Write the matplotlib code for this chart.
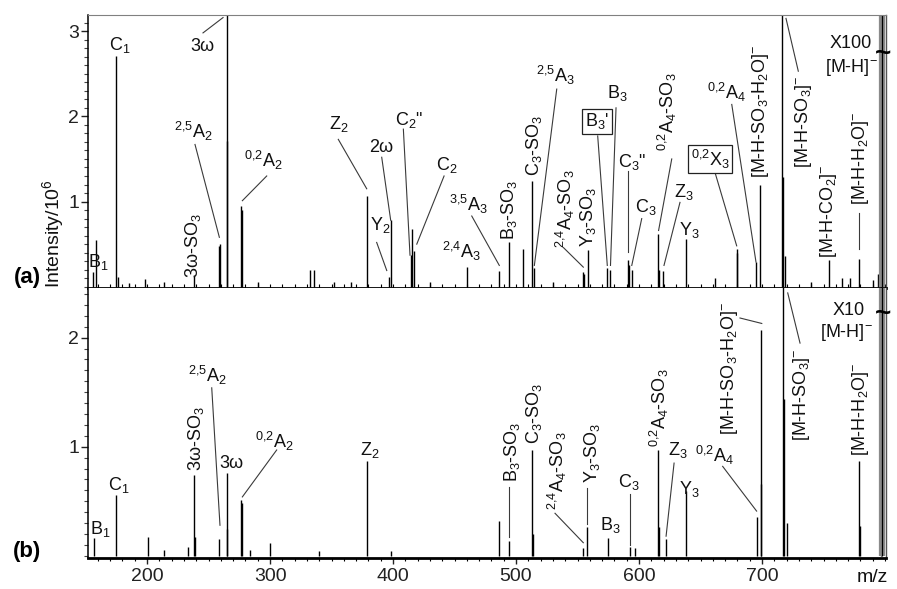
import matplotlib
matplotlib.use("Agg")
import matplotlib.pyplot as plt
from matplotlib.ticker import MultipleLocator, FixedLocator

plt.rcParams['font.family'] = ['Liberation Sans', 'DejaVu Sans']
plt.rcParams['mathtext.fontset'] = 'custom'
plt.rcParams['mathtext.rm'] = 'Liberation Sans'
plt.rcParams['mathtext.it'] = 'Liberation Sans:italic'
plt.rcParams['mathtext.bf'] = 'Liberation Sans:bold'

# ---------------- data (m/z, intensity /10^6) ----------------
# panel (a)
mz_a = [156.3, 158.3, 174.8, 176.0, 185.0, 198.4, 214.0, 238.2, 258.3, 259.0,
        264.8, 265.3, 276.8, 277.4, 290.0, 332.5, 336.0, 352.0, 366.0, 378.6,
        396.7, 398.1, 414.4, 415.7, 416.8, 430.0, 460.0, 486.4, 494.6, 505.4,
        513.3, 515.0, 530.0, 554.2, 555.0, 558.3, 574.2, 576.5, 590.8, 591.8,
        594.4, 615.4, 616.5, 619.8, 638.2, 661.8, 679.4, 680.0, 695.1, 698.4,
        716.5, 717.3, 719.0, 740.0, 754.6, 764.8, 771.5, 778.9, 790.0, 794.0,
        796.5, 797.0]
int_a = [0.17, 0.55, 2.71, 0.12, 0.04, 0.09, 0.05, 0.13, 0.48, 0.50,
         3.60, 1.71, 0.95, 0.90, 0.05, 0.20, 0.20, 0.05, 0.06, 1.07,
         0.11, 0.78, 0.37, 0.68, 0.42, 0.05, 0.23, 0.18, 0.53, 0.44,
         1.24, 0.22, 0.05, 0.17, 0.15, 0.43, 0.22, 0.20, 0.31, 0.25,
         0.20, 0.62, 0.20, 0.19, 0.56, 0.10, 0.44, 0.40, 0.29, 1.20,
         4.00, 1.29, 0.36, 0.06, 0.31, 0.10, 0.10, 0.33, 0.08, 0.15,
         1.59, 1.38]
mz_a_sat = [797.6]          # saturated [M-H]- (drawn grey, off scale)
int_a_sat = [5.0]

# panel (b)
mz_b = [156.9, 174.8, 200.5, 214.0, 233.0, 238.2, 238.8, 258.8, 264.8, 265.3,
        276.6, 277.3, 284.0, 300.0, 340.0, 378.6, 398.0, 486.2, 494.6, 513.3,
        514.0, 554.7, 558.0, 574.5, 592.4, 597.0, 615.4, 616.0, 622.0, 638.2,
        695.6, 698.9, 699.5, 717.3, 717.8, 720.0, 779.2, 779.8, 796.5]
int_b = [0.16, 0.56, 0.17, 0.05, 0.08, 0.74, 0.17, 0.15, 0.76, 0.25,
         0.51, 0.48, 0.05, 0.12, 0.04, 0.87, 0.04, 0.32, 0.14, 0.97,
         0.20, 0.07, 0.26, 0.16, 0.08, 0.07, 0.97, 0.26, 0.15, 0.59,
         0.36, 2.07, 0.66, 3.00, 1.44, 0.30, 0.87, 0.27, 0.69]
mz_b_sat = [797.6]
int_b_sat = [4.0]

x_ticks = [200, 300, 400, 500, 600, 700]
y_ticks_a = [1, 2, 3]
y_ticks_b = [1, 2]

# ---------------- figure ----------------
W, H = 897, 589
fig = plt.figure(figsize=(W / 100, H / 100), dpi=100)
L, R = 88, 886
ax1 = fig.add_axes([L / W, 1 - 288 / H, (R - L) / W, (288 - 15) / H])
ax2 = fig.add_axes([L / W, 1 - 558 / H, (R - L) / W, (558 - 288) / H])

XL = (152, 800.8)
FS = 13
TFS = 14
LC = '#3a3a3a'

for ax in (ax1, ax2):
    ax.set_xlim(*XL)
    ax.xaxis.set_major_locator(FixedLocator(x_ticks))
    ax.xaxis.set_minor_locator(MultipleLocator(10))
    ax.yaxis.set_minor_locator(MultipleLocator(0.1))
    ax.tick_params(axis='y', which='major', direction='out', length=5, width=1,
                   labelsize=TFS, pad=1.5, colors='#222222')
    ax.tick_params(axis='y', which='minor', direction='out', length=3, width=0.8,
                   colors='#444444')
    ax.spines['left'].set_linewidth(1.1)
    ax.spines['right'].set_color('#555555')
    ax.spines['right'].set_linewidth(1.0)

ax1.set_ylim(-0.015, 3.19)
ax2.set_ylim(-0.02, 2.455)
ax1.yaxis.set_major_locator(FixedLocator(y_ticks_a))
ax2.yaxis.set_major_locator(FixedLocator(y_ticks_b))

ax1.spines['top'].set_color('#808080')
ax1.spines['bottom'].set_linewidth(2.0)
ax2.spines['top'].set_visible(False)
ax2.spines['bottom'].set_linewidth(2.0)
ax1.tick_params(axis='x', which='both', direction='in', length=3, width=0.8,
                labelbottom=False)
ax2.tick_params(axis='x', which='major', direction='out', length=4, width=1,
                labelsize=TFS, pad=3, colors='#222222')
ax2.tick_params(axis='x', which='minor', direction='out', length=2.5, width=0.8)

# peaks
ax1.vlines(mz_a, 0, int_a, color='black', lw=1.0)
ax1.vlines(mz_a_sat, 0, int_a_sat, color='#8a8a8a', lw=4.5)
ax1.vlines(mz_a_sat, 0, int_a_sat, color='black', lw=0.9)
ax2.vlines(mz_b, 0, int_b, color='black', lw=1.0)
ax2.vlines(mz_b_sat, 0, int_b_sat, color='#8a8a8a', lw=4.5)
ax2.vlines(mz_b_sat, 0, int_b_sat, color='black', lw=0.9)

# ---------------- annotations (layout only) ----------------
box = dict(boxstyle='square,pad=0.15', fc='white', ec='#222222', lw=0.9)
ann_a = [
    (r'B$_1$', 160.2, 0.29, 0, None, False),
    (r'C$_1$', 178.0, 2.84, 0, None, False),
    ('3ω', 244.7, 2.82, 0, (245.5, 2.98, 261.8, 3.16), False),
    (r'$^{2{,}5}$A$_2$', 237.4, 1.82, 0, (239.0, 1.67, 258.8, 0.58), False),
    (r'3ω-SO$_3$', 237.6, 0.48, 90, None, False),
    (r'$^{0{,}2}$A$_2$', 294.6, 1.48, 0, (297.3, 1.30, 277.5, 1.01), False),
    (r'Z$_2$', 355.5, 1.91, 0, (355.5, 1.73, 378.6, 1.15), False),
    (r'Y$_2$', 389.4, 0.73, 0, (386.7, 0.52, 394.9, 0.19), False),
    ('2ω', 390.2, 1.63, 0, (390.8, 1.52, 398.1, 0.78), False),
    (r'C$_2$"', 413.0, 1.96, 0, (408.4, 1.85, 413.8, 0.37), False),
    (r'C$_2$', 443.9, 1.43, 0, (441.5, 1.30, 419.3, 0.50), False),
    (r'$^{3{,}5}$A$_3$', 461.0, 0.97, 0, (464.0, 0.83, 486.4, 0.25), False),
    (r'$^{2{,}4}$A$_3$', 455.3, 0.41, 0, None, False),
    (r'B$_3$-SO$_3$', 494.3, 0.90, 90, None, False),
    (r'C$_3$-SO$_3$', 514.6, 1.66, 90, None, False),
    (r'$^{2{,}5}$A$_3$', 531.7, 2.48, 0, (533.1, 2.32, 514.9, 0.25), False),
    (r'$^{2{,}4}$A$_4$-SO$_3$', 539.8, 0.91, 90, (538.5, 0.46, 554.7, 0.23), False),
    (r'Y$_3$-SO$_3$', 558.5, 0.82, 90, None, False),
    (r"B$_3$'", 565.9, 1.94, 0, (566.4, 1.77, 574.2, 0.25), True),
    (r'B$_3$', 582.1, 2.28, 0, (581.3, 2.10, 576.8, 0.25), False),
    (r'C$_3$"', 594.3, 1.46, 0, (590.8, 1.36, 590.8, 0.41), False),
    (r'C$_3$', 605.7, 0.94, 0, (602.2, 0.80, 594.1, 0.25), False),
    (r'$^{0{,}2}$A$_4$-SO$_3$', 622.8, 2.05, 90, (626.6, 1.50, 615.9, 0.66), False),
    (r'Z$_3$', 636.6, 1.11, 0, (633.3, 0.99, 620.3, 0.25), False),
    (r'Y$_3$', 640.7, 0.67, 0, None, False),
    (r'$^{0{,}2}$X$_3$', 657.7, 1.50, 0, (661.8, 1.34, 679.4, 0.48), True),
    (r'$^{0{,}2}$A$_4$', 671.5, 2.28, 0, (675.4, 2.14, 695.1, 0.29), False),
    (r'[M-H-SO$_3$-H$_2$O]$^{-}$', 698.4, 2.06, 90, None, False),
    (r'[M-H-SO$_3$]$^{-}$', 734.1, 1.94, 90, (719.5, 3.15, 729.5, 2.53), False),
    (r'[M-H-CO$_2$]$^{-}$', 753.7, 0.89, 90, None, False),
    (r'[M-H-H$_2$O]$^{-}$', 779.7, 1.51, 90, (778.9, 0.87, 778.9, 0.44), False),
    ('X100', 772.4, 2.85, 0, None, False),
    (r'[M-H]$^{-}$', 772.4, 2.57, 0, None, False),
]
ann_b = [
    (r'B$_1$', 161.8, 0.25, 0, None, False),
    (r'C$_1$', 177.2, 0.65, 0, None, False),
    (r'3ω-SO$_3$', 239.8, 1.07, 90, None, False),
    (r'$^{2{,}5}$A$_2$', 248.8, 1.65, 0, (252.6, 1.54, 259.3, 0.28), False),
    ('3ω', 268.3, 0.85, 0, None, False),
    (r'$^{0{,}2}$A$_2$', 303.3, 1.05, 0, (305.4, 0.97, 277.5, 0.54), False),
    (r'Z$_2$', 381.3, 0.97, 0, None, False),
    (r'B$_3$-SO$_3$', 496.7, 0.95, 90, (494.6, 0.63, 494.6, 0.17), False),
    (r'C$_3$-SO$_3$', 514.6, 1.31, 90, None, False),
    (r'$^{2{,}4}$A$_4$-SO$_3$', 533.3, 0.78, 90, (531.7, 0.39, 554.7, 0.12), False),
    (r'Y$_3$-SO$_3$', 561.8, 0.94, 90, (558.0, 0.62, 558.0, 0.29), False),
    (r'B$_3$', 576.4, 0.28, 0, None, False),
    (r'C$_3$', 591.9, 0.68, 0, (592.4, 0.57, 592.4, 0.10), False),
    (r'$^{0{,}2}$A$_4$-SO$_3$', 616.3, 1.36, 90, None, False),
    (r'Z$_3$', 631.7, 0.97, 0, (628.5, 0.85, 622.0, 0.18), False),
    (r'Y$_3$', 640.7, 0.61, 0, None, False),
    (r'$^{0{,}2}$A$_4$', 661.0, 0.92, 0, (668.0, 0.82, 695.6, 0.41), False),
    (r'[M-H-SO$_3$-H$_2$O]$^{-}$', 673.2, 1.72, 90, (682.1, 2.18, 699.8, 2.13), False),
    (r'[M-H-SO$_3$]$^{-}$', 732.5, 1.48, 90, (720.9, 2.41, 730.9, 1.95), False),
    (r'[M-H-H$_2$O]$^{-}$', 779.7, 1.34, 90, None, False),
    ('X10', 770.7, 2.25, 0, None, False),
    (r'[M-H]$^{-}$', 768.3, 2.05, 0, None, False),
]

for ax, anns in ((ax1, ann_a), (ax2, ann_b)):
    for txt, x, y, rot, line, boxed in anns:
        ax.text(x, y, txt, rotation=rot, ha='center', va='center', fontsize=FS,
                color='#111111', bbox=box if boxed else None, zorder=4)
        if line is not None:
            ax.plot([line[0], line[2]], [line[1], line[3]], color=LC, lw=0.8,
                    zorder=3)

# break marks on the saturated [M-H]- peak
ax1.text(798.6, 2.73, '~', fontsize=20, fontweight='bold', ha='center',
         va='center', clip_on=False, zorder=5)
ax2.text(798.6, 2.22, '~', fontsize=20, fontweight='bold', ha='center',
         va='center', clip_on=False, zorder=5)

# panel labels and axis text
fig.text(27 / W, 1 - 277 / H, '(a)', fontsize=16, fontweight='bold',
         ha='center', va='center')
fig.text(27 / W, 1 - 551 / H, '(b)', fontsize=16, fontweight='bold',
         ha='center', va='center')
fig.text(53 / W, 1 - 234 / H, r'Intensity/10$^{6}$', rotation=90, fontsize=14,
         ha='center', va='center', color='#111111')
fig.text(872 / W, 1 - 577 / H, 'm/z', fontsize=TFS, ha='center', va='center',
         color='#111111')

fig.savefig('out.png', dpi=100)
